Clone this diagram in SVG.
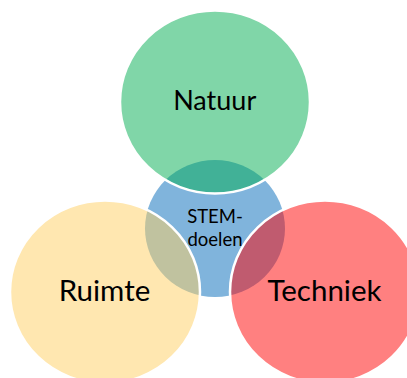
<svg xmlns="http://www.w3.org/2000/svg" width="407" height="378" viewBox="0 0 407 378">
<style>
.c{stroke:#fff;stroke-width:2.5}
.o{fill-opacity:.5}
text{font-family:"Lato","Open Sans","Liberation Sans",sans-serif;fill:#000;text-anchor:middle}
.n{font-size:27px}
.l{font-size:29.5px}
.s{font-size:18.5px}
</style>
<rect width="407" height="378" fill="#fff"/>
<g id="stem">
<ellipse cx="215" cy="228.5" rx="70" ry="68.5" fill="#80B4DC"/>
<text class="s" x="215" y="223">STEM-</text>
<text class="s" x="215" y="246">doelen</text>
</g>
<g id="natuur">
<ellipse class="c o" cx="215" cy="102" rx="95" ry="91.5" fill="#01AD51"/>
<text class="n" x="214.7" y="110">Natuur</text>
</g>
<g id="ruimte">
<ellipse class="c o" cx="105" cy="292" rx="95" ry="91.5" fill="#FFCF61"/>
<text class="l" x="104.5" y="300.5">Ruimte</text>
</g>
<g id="techniek">
<ellipse class="c o" cx="325" cy="292" rx="95" ry="91.5" fill="#FF0101"/>
<text class="l" x="324.5" y="300.5">Techniek</text>
</g>
<g id="connectors"/>
</svg>
